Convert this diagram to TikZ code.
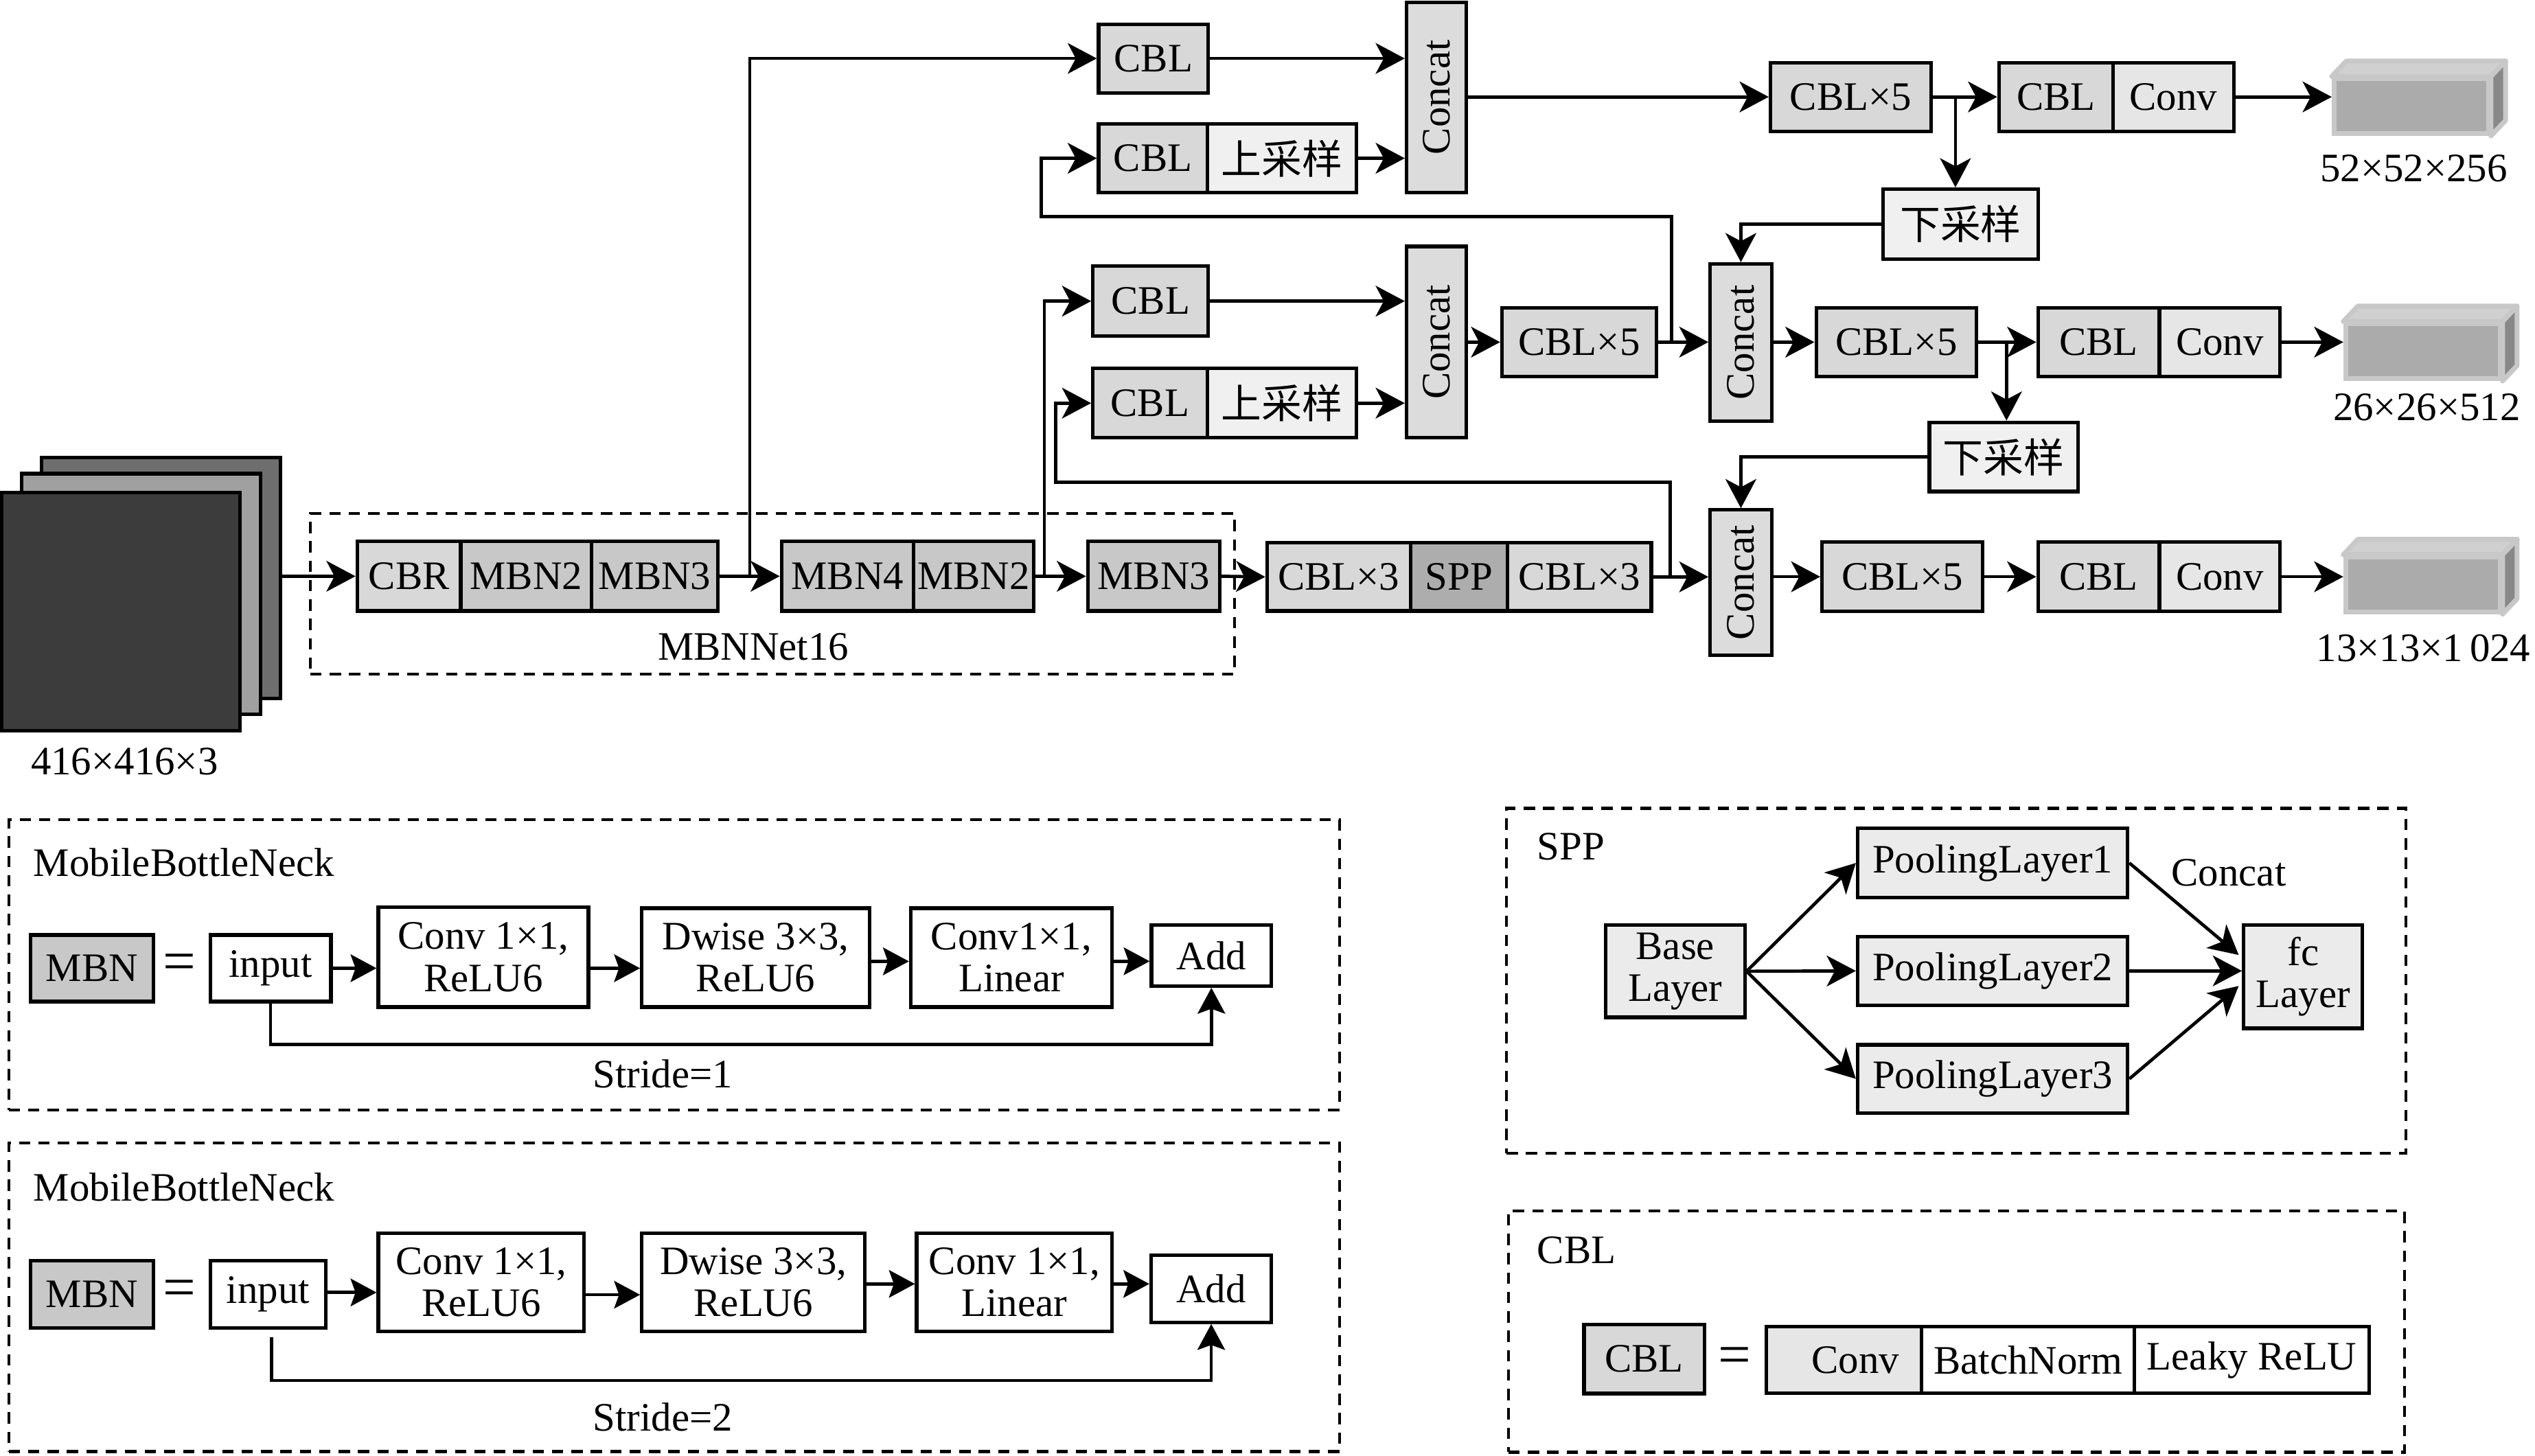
\documentclass[tikz,border=0pt]{standalone}
\usepackage{fontspec}
\setmainfont{Liberation Serif}
\newfontfamily\cjk{Noto Sans CJK SC}
\usetikzlibrary{arrows.meta,calc}
\definecolor{gA}{HTML}{D8D8D8}
\definecolor{gB}{HTML}{C8C8C8}
\definecolor{gC}{HTML}{F0F0F0}
\definecolor{gD}{HTML}{DCDCDC}
\definecolor{gE}{HTML}{E6E6E6}
\definecolor{gS}{HTML}{ADADAD}
\definecolor{gP}{HTML}{EBEBEB}
\definecolor{sqA}{HTML}{3C3C3C}
\definecolor{sqB}{HTML}{A0A0A0}
\definecolor{sqC}{HTML}{6E6E6E}
\definecolor{cubF}{HTML}{ABABAB}
\definecolor{cubT}{HTML}{D0D0D0}
\definecolor{cubS}{HTML}{888888}
\definecolor{cubL}{HTML}{C8C8C8}
\newcommand\mycuboid[3]{%
  \node[cubf, wh={95.5}{33.8}] (#1) at (#2,#3) {};
  \filldraw[cubl, fill=cubT] (#1.north west) -- ($(#1.north west)+(9,-9.5)$) -- ($(#1.north east)+(9,-9.5)$) -- (#1.north east) -- cycle;
  \filldraw[cubl, fill=cubS] (#1.north east) -- ($(#1.north east)+(9,-9.5)$) -- ($(#1.south east)+(9,-9.5)$) -- (#1.south east) -- cycle;
}
\begin{document}
\begin{tikzpicture}[x=1pt,y=-1pt,
  every node/.style={font=\fontsize{25}{26}\selectfont, inner sep=0pt},
  wh/.style 2 args={minimum width=#1, minimum height=#2},
  blk/.style={draw, line width=2.2pt},
  sqs/.style={draw, line width=2.2pt},
  cubf/.style={draw=cubL, line width=3pt, fill=cubF},
  cubl/.style={draw=cubL, line width=3pt, line join=round},
  dbox/.style={draw, line width=1.8pt, dash pattern=on 7pt off 5pt},
  arr/.style={line width=2pt, -{Stealth[length=18pt,width=19pt,inset=5pt]}},
  arrs/.style={line width=2pt, -{Stealth[length=16pt,width=17pt,inset=3pt]}},
  eqs/.style={font=\fontsize{36}{36}\selectfont},
  two/.style={align=center}
]
\useasboundingbox (0,0) rectangle (1568,900.4);

% ---------- dashed frames ----------
\node[dbox, wh={571.7}{99.4}] (mbnnet) at (477.75,367.3) {};
\node (mbnl) at (466,400) {MBNNet16};
\node[dbox, wh={823.2}{179.4}] (pan1) at (417,596.9) {};
\node[dbox, wh={823.2}{190.9}] (pan2) at (417,802.55) {};
\node[dbox, wh={556.2}{213.3}] (pan3) at (1209.9,606.75) {};
\node[dbox, wh={554.2}{149.4}] (pan4) at (1210.1,823.7) {};

% ---------- input stack ----------
\node[sqs, fill=sqC, wh={147.9}{149}] (sqc) at (99.65,357.5) {};
\node[sqs, fill=sqB, wh={147.9}{149}] (sqb) at (87.35,367.5) {};
\node[sqs, fill=sqA, wh={147.6}{147.3}] (sqa) at (74.8,378.35) {};
\node (labin) at (77,471) {416×416×3};

% ---------- backbone ----------
\node[blk, fill=gA, wh={64}{43}] (cbr) at (253,356.5) {CBR};
\node[blk, fill=gB, wh={81}{43}] (mbn2a) at (325.5,356.5) {MBN2};
\node[blk, fill=gB, wh={78}{43}] (mbn3a) at (405,356.5) {MBN3};
\node[blk, fill=gB, wh={81.6}{43}] (mbn4) at (524.2,356.5) {MBN4};
\node[blk, fill=gB, wh={74.3}{43}] (mbn2b) at (602.15,356.5) {MBN2};
\node[blk, fill=gB, wh={81.7}{43}] (mbn3b) at (713.65,356.5) {MBN3};
\node[blk, fill=gA, wh={88.7}{42.2}] (g1) at (828.05,356.9) {CBL×3};
\node[blk, fill=gS, wh={59.9}{42.2}] (sppc) at (902.35,356.9) {SPP};
\node[blk, fill=gA, wh={89.1}{42.2}] (g3) at (976.85,356.9) {CBL×3};

% ---------- top branch ----------
\node[blk, fill=gA, wh={67.9}{42.5}] (cbla) at (713.45,36.15) {CBL};
\node[blk, fill=gA, wh={67.2}{42.6}] (cblb) at (713.1,97.9) {CBL};
\node[blk, fill=gC, wh={92.3}{42.6}] (up1) at (792.85,97.9) {\cjk 上采样};
\node[blk, fill=gD, wh={37}{117.6}] (c1) at (888.5,60.2) {};
\node[rotate=90] (c1t) at (c1) {Concat};
\node[blk, fill=gA, wh={99.3}{42.5}] (x5a) at (1144.75,59.95) {CBL×5};
\node[blk, fill=gA, wh={70.6}{42.5}] (cca) at (1271.7,59.95) {CBL};
\node[blk, fill=gE, wh={74.7}{42.5}] (cva) at (1344.35,59.95) {Conv};
\mycuboid{cub1}{1491.5}{65.65}
\node (lab1) at (1493,104) {52×52×256};
\node[blk, fill=gC, wh={95.8}{43.3}] (ds1) at (1212.7,138.65) {\cjk 下采样};

% ---------- middle branch ----------
\node[blk, fill=gA, wh={71.4}{43.4}] (cblc) at (711.7,186.3) {CBL};
\node[blk, fill=gA, wh={70.7}{42.8}] (cbld) at (711.35,249.4) {CBL};
\node[blk, fill=gC, wh={92.3}{42.8}] (up2) at (792.85,249.4) {\cjk 上采样};
\node[blk, fill=gD, wh={37}{118.3}] (c2) at (888.5,211.65) {};
\node[rotate=90] (c2t) at (c2) {Concat};
\node[blk, fill=gA, wh={95.5}{42.5}] (x5m1) at (976.75,211.65) {CBL×5};
\node[blk, fill=gD, wh={38}{97.2}] (c4) at (1076.8,211.9) {};
\node[rotate=90] (c4t) at (c4) {Concat};
\node[blk, fill=gA, wh={99.2}{42.5}] (x5m2) at (1173,211.65) {CBL×5};
\node[blk, fill=gA, wh={75.1}{42.5}] (ccm) at (1298.15,211.65) {CBL};
\node[blk, fill=gE, wh={74.6}{42.5}] (cvm) at (1373,211.65) {Conv};
\mycuboid{cub2}{1498.65}{217.3}
\node (lab2) at (1501,251.8) {26×26×512};
\node[blk, fill=gC, wh={91.8}{42.8}] (ds2) at (1239.3,282.7) {\cjk 下采样};

% ---------- bottom branch ----------
\node[blk, fill=gD, wh={38}{89.9}] (c5) at (1076.8,360.45) {};
\node[rotate=90] (c5t) at (c5) {Concat};
\node[blk, fill=gA, wh={99.3}{43}] (x5b) at (1176.65,356.8) {CBL×5};
\node[blk, fill=gA, wh={75.1}{43}] (ccb) at (1298.15,356.8) {CBL};
\node[blk, fill=gE, wh={74.6}{43}] (cvb) at (1373,356.8) {Conv};
\mycuboid{cub3}{1498.65}{361.55}
\node (lab3) at (1499,400.8) {13×13×1\,024};

% ---------- connectors (main) ----------
\draw[arr] (sqc.east |- cbr.west) -- (cbr.west);
\draw[arr] (mbn3a.east) -- (mbn4.west);
\coordinate (b1) at ($(mbn3a.east)!0.5!(mbn4.west)$);
\draw[arr, line width=1.6pt] (b1) |- (cbla.west);
\draw[arr] (cbla.east) -- (cbla.east -| c1.west);
\draw[arr] (up1.east) -- (up1.east -| c1.west);
\draw[arr] (c1.east |- x5a.west) -- (x5a.west);
\draw[arr] (x5a.east) -- (cca.west);
\coordinate (b2) at ($(x5a.east)+(14,0)$);
\draw[arr] (b2) -- (b2 |- ds1.north);
\draw[arr] (cva.east) -- (cva.east -| cub1.west);
\draw[arr] (ds1.west) -| (c4.north);
\draw[arr] (c2.east |- x5m1.west) -- (x5m1.west);
\draw[arr] (x5m1.east) -- (x5m1.east -| c4.west);
\coordinate (b3) at (1034,211.65);
\draw[arr] (b3) |- (644,134) |- (cblb.west);
\draw[arr] (mbn2b.east) -- (mbn3b.west);
\coordinate (b4) at (646,356.5);
\draw[arr] (b4) |- (cblc.west);
\draw[arr] (cblc.east) -- (cblc.east -| c2.west);
\draw[arr] (up2.east) -- (up2.east -| c2.west);
\draw[arr] (mbn3b.east) -- (g1.west);
\draw[arr] (g3.east) -- (g3.east -| c5.west);
\coordinate (b5) at (1033,356.9);
\draw[arr] (b5) |- (653,298.4) |- (cbld.west);
\draw[arr] (c4.east |- x5m2.west) -- (x5m2.west);
\draw[arr] (x5m2.east) -- (ccm.west);
\coordinate (b6) at (1241.1,211.65);
\draw[arr] (b6) -- (b6 |- ds2.north);
\draw[arr] (cvm.east) -- (cvm.east -| cub2.west);
\draw[arr] (ds2.west) -| (c5.north);
\draw[arr] (c5.east |- x5b.west) -- (x5b.west);
\draw[arr] (x5b.east) -- (ccb.west);
\draw[arr] (cvb.east) -- (cvb.east -| cub3.west);

% ---------- MobileBottleNeck stride 1 ----------
\node[anchor=west] (t1) at (20.6,533.5) {MobileBottleNeck};
\node[blk, fill=gB, wh={75.8}{41.2}] (mbnk1) at (56.9,599) {MBN};
\node[eqs] (eq1) at (111,598.6) {=};
\node[blk, fill=white, wh={74.7}{41.2}] (in1) at (167.35,599) {input};
\node[blk, two, fill=white, wh={130}{61.7}] (cv1) at (299,592.15) {Conv 1×1,\\ReLU6};
\node[blk, two, fill=white, wh={140.8}{61.1}] (dw1) at (467.4,592.45) {Dwise 3×3,\\ReLU6};
\node[blk, two, fill=white, wh={124.5}{61.1}] (ln1) at (625.55,592.45) {Conv1×1,\\Linear};
\node[blk, fill=white, wh={74.2}{37.6}] (ad1) at (749.3,591.2) {Add};
\draw[arrs] (in1.east) -- (in1.east -| cv1.west);
\draw[arrs] (cv1.east |- in1.east) -- (dw1.west |- in1.east);
\draw[arrs] ($(dw1.east)+(0,2.3)$) -- ($(ln1.west)+(0,2.3)$);
\draw[arrs] (ln1.east |- 0,594.7) -- (ad1.west |- 0,594.7);
\coordinate (k1) at (ad1.south |- 0,646.2);
\draw[arrs] (in1.south) |- (k1) -- (ad1.south);
\node (s1) at (410,664.3) {Stride=1};

% ---------- MobileBottleNeck stride 2 ----------
\node[anchor=west] (t2) at (20.6,734.4) {MobileBottleNeck};
\node[blk, fill=gB, wh={75.8}{41.5}] (mbnk2) at (56.9,800.65) {MBN};
\node[eqs] (eq2) at (111,800.2) {=};
\node[blk, fill=white, wh={71.5}{41.5}] (in2) at (165.75,800.65) {input};
\node[blk, two, fill=white, wh={127.3}{61}] (cv2) at (297.65,793.3) {Conv 1×1,\\ReLU6};
\node[blk, two, fill=white, wh={138}{61}] (dw2) at (466,793.3) {Dwise 3×3,\\ReLU6};
\node[blk, two, fill=white, wh={120.8}{61}] (ln2) at (627.4,793.3) {Conv 1×1,\\Linear};
\node[blk, fill=white, wh={74.4}{41.5}] (ad2) at (749.2,797.25) {Add};
\draw[arrs] (in2.east |- 0,799.6) -- (cv2.west |- 0,799.6);
\draw[arrs] (cv2.east |- 0,801) -- (dw2.west |- 0,801);
\draw[arrs] (dw2.east |- 0,794.3) -- (ln2.west |- 0,794.3);
\draw[arrs] (ln2.east |- 0,794.3) -- (ad2.west |- 0,794.3);
\coordinate (k2s) at (167.9,827.2);
\coordinate (k2) at (ad2.south |- 0,854);
\draw[arrs] (k2s) |- (k2) -- (ad2.south);
\node (s2) at (410,876.6) {Stride=2};

% ---------- SPP ----------
\node[anchor=west] (t3) at (950.6,523.8) {SPP};
\node[blk, two, fill=gP, wh={86}{57}] (base) at (1036.2,600.9) {Base\\Layer};
\node[blk, fill=gP, wh={167}{42.8}] (p1) at (1232.5,533.9) {PoolingLayer1};
\node[blk, fill=gP, wh={167}{42.3}] (p2) at (1232.5,600.65) {PoolingLayer2};
\node[blk, fill=gP, wh={167}{42.1}] (p3) at (1232.5,667.45) {PoolingLayer3};
\node[blk, two, fill=gP, wh={73.5}{63.8}] (fc) at (1424.55,604.3) {fc\\Layer};
\node (cct) at (1378.6,540) {Concat};
\draw[arr] (base.east) -- (p1.west);
\draw[arr] (base.east) -- (p2.west);
\draw[arr] (base.east) -- (p3.west);
\draw[arr] (p1.east) -- ($(fc.west)+(-2,-13.5)$);
\draw[arr] (p2.east) -- (fc.west |- p2.east);
\draw[arr] (p3.east) -- ($(fc.west)+(-2,5.7)$);

% ---------- CBL ----------
\node[anchor=west] (t4) at (950.6,773.3) {CBL};
\node[blk, fill=gA, wh={74.4}{42.8}] (cblk) at (1017,840.7) {CBL};
\node[eqs] (eq3) at (1073,841.6) {=};
\node[blk, fill=gE, wh={96}{41.4}] (cconv) at (1140.6,841.3) {\hspace{14pt}Conv};
\node[blk, fill=white, wh={131.6}{41.4}] (cbn) at (1254.4,841.3) {BatchNorm};
\node[blk, fill=white, wh={145.3}{41.4}] (clr) at (1392.85,841.3) {Leaky ReLU};
\end{tikzpicture}
\end{document}
